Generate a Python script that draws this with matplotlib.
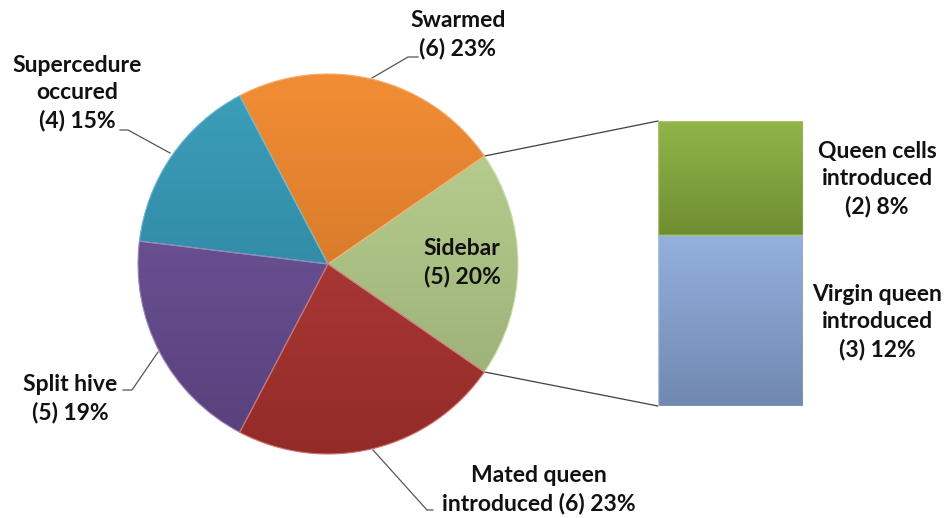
import matplotlib
matplotlib.use('Agg')
import matplotlib.pyplot as plt
import numpy as np
from matplotlib.colors import to_rgb
from matplotlib.patches import ConnectionPatch

plt.rcParams['font.family'] = ['Lato', 'DejaVu Sans']

# pie slices, counted from the "Sidebar" slice going round anticlockwise
pie_labels = ['Sidebar\n(5) 20%', 'Swarmed\n(6) 23%', 'Supercedure\noccured\n(4) 15%',
              'Split hive\n(5) 19%', 'Mated queen\nintroduced (6) 23%']
pie_values = [5, 6, 4, 5, 6]
pie_colors = ['#BAD38E', '#F18628', '#3099B8', '#6D509A', '#B83633']

# the sidebar split into its bar
bar_labels = ['Virgin queen\nintroduced\n(3) 12%', 'Queen cells\nintroduced\n(2) 8%']
bar_values = [3, 2]
bar_colors = ['#8DABDC', '#8AB13E']

W, H = 953, 518
fig = plt.figure(figsize=(W / 100, H / 100), dpi=100)
ax = fig.add_axes([0, 0, 1, 1])


def shade(c, f):
    r = np.array(to_rgb(c))
    if f >= 1:
        return r + (1 - r) * (f - 1)
    return r * f


def gradient_fill(axis, patch, color, extent, top=1.06, bottom=0.8):
    grad = np.linspace(0, 1, 256)[:, None]
    c1, c2 = shade(color, top), shade(color, bottom)
    img = (c1[None, None, :] * (1 - grad[..., None]) + c2[None, None, :] * grad[..., None])
    img = np.clip(img, 0, 1)
    im = axis.imshow(img, extent=extent, aspect='auto', origin='upper', zorder=patch.get_zorder(),
                     interpolation='bilinear')
    im.set_clip_path(patch)


cx, cy, r = 328, 264, 190
start = 360 * pie_values[0] / sum(pie_values) / 2
# y axis is flipped below, so clockwise in data = anticlockwise on screen
wedges, _ = ax.pie(pie_values, colors=pie_colors, center=(cx, cy), radius=r,
                   startangle=start, counterclock=False, frame=True,
                   wedgeprops=dict(edgecolor='white', linewidth=0.6))
ax.set_xlim(0, W)
ax.set_ylim(H, 0)   # pixel coords, y down
ax.axis('off')
for w, c in zip(wedges, pie_colors):
    gradient_fill(ax, w, c, (cx - r, cx + r, cy + r, cy - r))
    w.set_facecolor('none')
    w.set_zorder(3)
    w.set_edgecolor(shade(c, 1.3))
    w.set_linewidth(0.8)

fs = 16.5
txt = dict(fontsize=fs, fontweight='bold', color='#111111', ha='center', va='center',
           linespacing=1.38)
ax.text(462, 263, pie_labels[0], zorder=5, **txt)
ax.text(458, 35, pie_labels[1], **txt)
ax.text(77, 93, pie_labels[2], **txt)
ax.text(70, 399, pie_labels[3], **txt)
ax.text(539, 490, pie_labels[4], **txt)

lead = dict(color='#555555', lw=0.9, zorder=1)
ax.plot([372, 408, 418], [78, 57, 57], **lead)
ax.plot([120, 128, 170], [130, 130, 153], **lead)
ax.plot([123, 132, 158], [390, 390, 352], **lead)
ax.plot([373, 427, 433], [450, 510, 510], **lead)

# stacked bar for the sidebar slice
bx = fig.add_axes([658 / W, (H - 406) / H, 145 / W, 285 / H])
bx.set_xlim(-0.5, 0.5)
bx.set_ylim(0, sum(bar_values))
bx.axis('off')
bars = bx.bar([0] * len(bar_values), bar_values, width=1.0,
              bottom=np.concatenate([[0], np.cumsum(bar_values)[:-1]]),
              color=bar_colors, edgecolor='none')
for b, c in zip(bars, bar_colors):
    y0, h = b.get_y(), b.get_height()
    gradient_fill(bx, b, c, (-0.5, 0.5, y0, y0 + h), top=1.06, bottom=0.8)
    b.set_facecolor('none')
    b.set_edgecolor(shade(c, 1.25))
    b.set_linewidth(1.0)
    b.set_zorder(3)

ax.text(877, 322, bar_labels[0], **txt)
ax.text(877, 179, bar_labels[1], **txt)

# connector lines from the sidebar slice edges to the bar corners
# (theta1 is the upper edge on screen because y is flipped)
side = wedges[0]
for ang, yb in [(side.theta1, sum(bar_values)), (side.theta2, 0)]:
    t = np.deg2rad(ang)
    p = (cx + r * np.cos(t), cy + r * np.sin(t))
    con = ConnectionPatch(xyA=p, coordsA=ax.transData, xyB=(-0.5, yb), coordsB=bx.transData,
                          color='#404040', lw=0.9, zorder=0)
    fig.add_artist(con)

fig.savefig('out.png', dpi=100)
